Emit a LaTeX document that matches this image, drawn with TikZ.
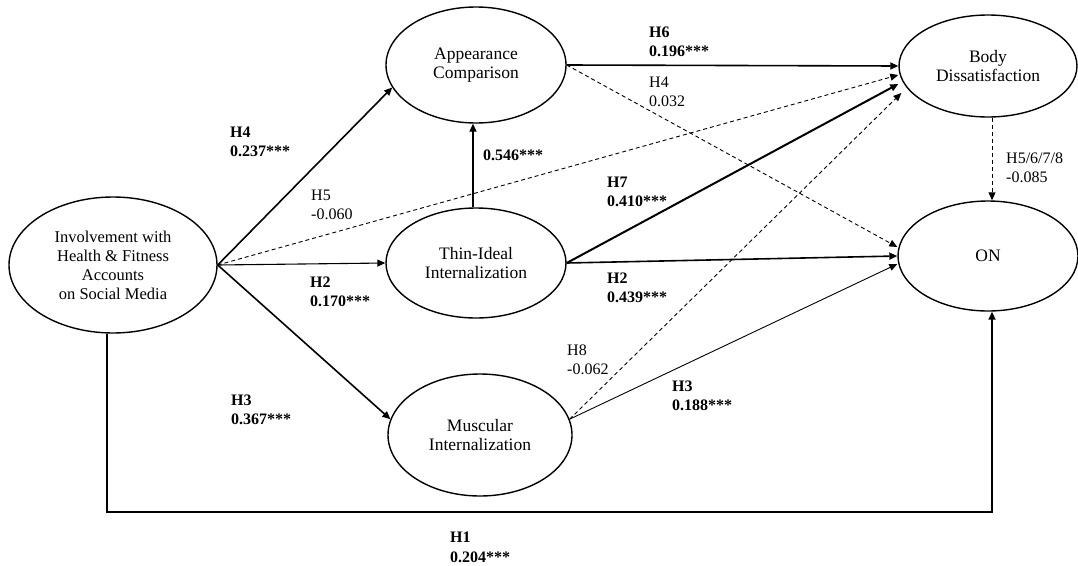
\documentclass[tikz,border=0pt]{standalone}
\usepackage{fontspec}
\setmainfont{Liberation Serif}
\usetikzlibrary{arrows.meta,shapes.geometric,calc}
\begin{document}
\begin{tikzpicture}[x=1pt,y=-1pt,
  lat/.style={draw, ellipse, line width=1.4pt, inner sep=0pt, align=center, font=\fontsize{17.5}{19.5}\selectfont},
  lbl/.style={anchor=base west, align=left, inner sep=0pt, font=\fontsize{16}{19.5}\selectfont},
  blbl/.style={anchor=base west, align=left, inner sep=0pt, font=\fontsize{16}{19.5}\selectfont\bfseries},
  conn/.style={-{Triangle[length=8pt,width=7pt]}, line width=1.6pt},
  dashconn/.style={-{Triangle[length=8pt,width=7pt]}, line width=0.9pt, dash pattern=on 4pt off 3pt}
]
\useasboundingbox (0,0) rectangle (1078,565);
% nodes
\node[lat, minimum width=208pt, minimum height=136pt, font=\fontsize{16.5}{19}\selectfont] (I) at (113,265) {Involvement with\\Health \& Fitness\\Accounts\\on Social Media};
\node[lat, minimum width=180pt, minimum height=116pt] (A) at (476,65) {Appearance\\Comparison};
\node[lat, minimum width=180pt, minimum height=110pt] (T) at (476,263) {Thin-Ideal\\Internalization};
\node[lat, minimum width=184pt, minimum height=122pt] (M) at (480,435) {Muscular\\Internalization};
\node[lat, minimum width=178pt, minimum height=102pt] (B) at (988,66) {Body\\Dissatisfaction};
\node[lat, minimum width=180pt, minimum height=110pt] (O) at (988,256) {ON};
% connectors
\draw[conn] (I.east) -- (A.195);
\draw[conn, line width=1.1pt] (I.east) -- (T.west);
\draw[conn] (I.east) -- (M.170);
\draw[dashconn] (I.east) -- ([yshift=-9pt]B.west);
\coordinate (h1) at (500,512);
\draw[conn] ([xshift=-6pt]I.south) |- (h1) -| ([xshift=4pt]O.south);
\draw[conn, line width=1.4pt] ([xshift=-3pt]T.north) -- ([xshift=-3pt]A.south);
\draw[conn] (A.east) -- (B.west);
\draw[dashconn] (A.east) -- ([yshift=9pt]O.west);
\draw[conn, line width=2pt] (T.east) -- ([yshift=-18pt]B.west);
\draw[conn] (T.east) -- (O.west);
\draw[dashconn] (M.10) -- ([xshift=3pt,yshift=-27pt]B.west);
\draw[conn, line width=0.9pt] (M.10) -- ([yshift=-8pt]O.west);
\draw[dashconn] ([xshift=4pt]B.south) -- ([xshift=4pt]O.north);
% labels (base anchor = baseline of last line)
\node[blbl] (l1) at (230,156.5) {H4\\0.237***};
\node[lbl] (l2) at (311,219.5) {H5\\-0.060};
\node[blbl] (l3) at (483,160) {0.546***};
\node[blbl] (l4) at (310,306.5) {H2\\0.170***};
\node[blbl] (l5) at (231,424.5) {H3\\0.367***};
\node[blbl] (l6) at (649,56.5) {H6\\0.196***};
\node[lbl] (l7) at (649,106.5) {H4\\0.032};
\node[blbl] (l8) at (607,206.5) {H7\\0.410***};
\node[blbl] (l9) at (607,302.5) {H2\\0.439***};
\node[lbl] (l10) at (567,374.5) {H8\\-0.062};
\node[blbl] (l11) at (672,410.5) {H3\\0.188***};
\node[blbl] (l12) at (450,562) {H1\\0.204***};
\node[lbl] (l13) at (1006,182.5) {H5/6/7/8\\-0.085};
\end{tikzpicture}
\end{document}
